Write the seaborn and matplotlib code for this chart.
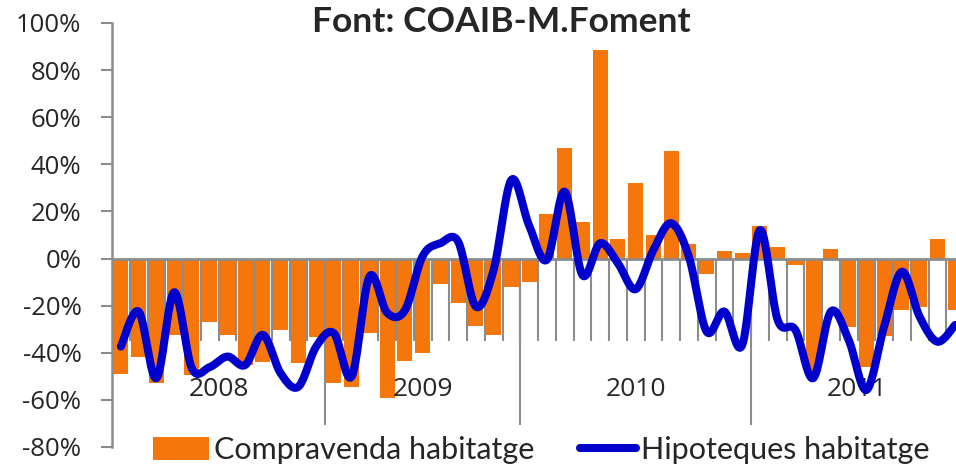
import numpy as np
import pandas as pd
import matplotlib
matplotlib.use("Agg")
import matplotlib.pyplot as plt
from matplotlib.patches import Patch
from matplotlib.lines import Line2D
import seaborn as sns

# monthly year-on-year change (%), Jan 2008 .. Dec 2011
years = ["2008", "2009", "2010", "2011"]
months_per_year = [12, 11, 13, 12]  # as grouped on the original category axis

compravenda = [
    -49, -42, -53, -32.5, -49.5, -27, -32.5, -45, -44, -30.5, -44.5, -33.5,
    -53, -54.5, -31.5, -59, -43.5, -40, -11, -19, -28.5, -32.5, -12,
    -10, 19, 47, 15.5, 88.5, 8.5, 32, 10, 45.5, 6, -6.5, 3.3, 2.2,
    14, 4.8, -2.7, -48, 4.1, -29, -46, -33, -22, -20.5, 8.3, -22,
]
hipoteques = [
    -37.4, -22.5, -50.8, -14.3, -46.6, -46.1, -41.6, -45.2, -32.4, -48.7, -54.4, -37.4,
    -31.7, -50.1, -7.7, -23, -22, 1, 6.5, 7.2, -20.4, -4.8, 33.4,
    14, -0.5, 28.4, -7, 6.5, -2, -13, 3.6, 15, 0.8, -31, -22.5, -36.8,
    12.1, -26, -30.3, -50.8, -22.5, -34.5, -55.8, -28.9, -5.6, -24.7, -35.3, -28.2,
]
yticks = list(range(-80, 101, 20))

ORANGE = "#F5760B"
BLUE = "#0000CC"
GRAY = "#8C8C8C"


def smooth_curve(xv, yv, n=24):
    """ Bezier smoothing through every point (like the spreadsheet 'smoothed line'). """
    x = np.asarray(xv, float)
    y = np.asarray(yv, float)
    xs, ys = [], []
    t = np.linspace(0, 1, n)
    for i in range(len(x) - 1):
        i0, i3 = max(i - 1, 0), min(i + 2, len(x) - 1)
        p0 = np.array([x[i0], y[i0]])
        p1 = np.array([x[i], y[i]])
        p2 = np.array([x[i + 1], y[i + 1]])
        p3 = np.array([x[i3], y[i3]])
        c1 = p1 + (p2 - p0) / 6
        c2 = p2 - (p3 - p1) / 6
        b = ((1 - t) ** 3)[:, None] * p1 + (3 * (1 - t) ** 2 * t)[:, None] * c1 \
            + (3 * (1 - t) * t ** 2)[:, None] * c2 + (t ** 3)[:, None] * p2
        xs.extend(b[:, 0])
        ys.extend(b[:, 1])
    return np.array(xs), np.array(ys)


sns.set_style("white")
plt.rcParams["font.family"] = ["Open Sans", "DejaVu Sans"]

df = pd.DataFrame({"mes": np.arange(len(compravenda)),
                   "compravenda": compravenda,
                   "hipoteques": hipoteques})

fig = plt.figure(figsize=(9.56, 4.68), dpi=100)
# the plot area runs a little past the right edge, like the cropped original
ax = fig.add_axes([112 / 956, 21 / 468, 852 / 956, 424 / 468])

sns.barplot(data=df, x="mes", y="compravenda", color=ORANGE, saturation=1,
            width=0.84, edgecolor="none", ax=ax, zorder=2)

sx, sy = smooth_curve(df["mes"], df["hipoteques"])
sns.lineplot(x=sx, y=sy, sort=False, estimator=None, color=BLUE, lw=5.8,
             ax=ax, zorder=4, solid_capstyle="round")

ax.set_xlim(-0.5, len(compravenda) - 0.5)
ax.set_ylim(-80, 100)
ax.set_yticks(yticks)
ax.set_yticklabels([f"{v}%" for v in yticks], fontsize=18.5)
ax.set_xticks([])
ax.set_xlabel("")
ax.set_ylabel("")
ax.tick_params(axis="y", length=8, width=1.5, color=GRAY, pad=14, left=True)
for s in ["top", "right", "bottom"]:
    ax.spines[s].set_visible(False)
ax.spines["left"].set_color(GRAY)
ax.spines["left"].set_linewidth(1.8)

# category axis at zero with tick marks between months and longer year dividers
ax.axhline(0, color=GRAY, lw=2, zorder=3)
bounds = np.arange(len(compravenda) + 1) - 0.5
ax.vlines(bounds[1:-1], -35, 0, color=GRAY, lw=1.5, zorder=3)
edges = np.concatenate([[0], np.cumsum(months_per_year)]) - 0.5
ax.vlines(edges[1:-1], -70.5, 0, color=GRAY, lw=1.5, zorder=3)
for yr, a, b in zip(years, edges[:-1], edges[1:]):
    ax.text((a + b) / 2, -55.5, yr, ha="center", va="center", fontsize=19, zorder=2.5)

fig.text(501 / 956, 1 - 22 / 468, "Font: COAIB-M.Foment", ha="center", va="center",
         fontsize=25.5, fontweight="bold", family=["Lato", "DejaVu Sans"])

handles = [Patch(facecolor=ORANGE, edgecolor="none"),
           Line2D([], [], color=BLUE, lw=5.8)]
fig.legend(handles, ["Compravenda habitatge", "Hipoteques habitatge"],
           loc="center", bbox_to_anchor=(541 / 956, 1 - 450 / 468), ncol=2,
           frameon=False, prop={"family": ["Lato", "DejaVu Sans"], "size": 22},
           handlelength=1.85, handleheight=0.8, handletextpad=0.15,
           columnspacing=1.5, borderpad=0, borderaxespad=0)

fig.savefig("out.png", dpi=100)
